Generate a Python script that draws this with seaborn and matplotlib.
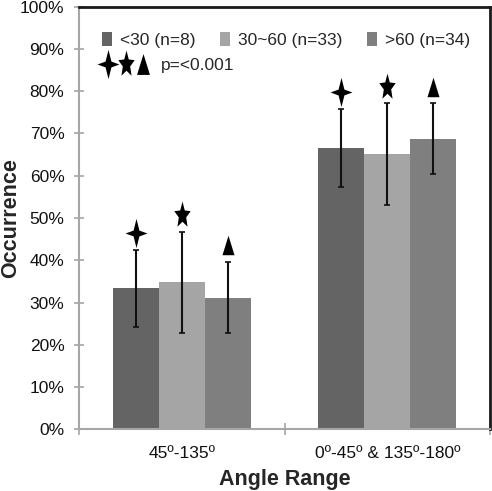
import numpy as np
import pandas as pd
import seaborn as sns
import matplotlib
matplotlib.use("Agg")
import matplotlib.pyplot as plt
from matplotlib import font_manager
from matplotlib.patches import Patch
from matplotlib.lines import Line2D
from matplotlib.legend_handler import HandlerTuple

# ---- data ----
categories = ["45º-135º", "0º-45º & 135º-180º"]
groups = ["<30 (n=8)", "30~60 (n=33)", ">60 (n=34)"]
vals_lt30 = [33.4, 66.5]
vals_30_60 = [34.8, 65.1]
vals_gt60 = [31.1, 68.7]
err_lt30 = [9.1, 9.2]
err_30_60 = [12.0, 12.0]
err_gt60 = [8.4, 8.4]
yticks = [0, 10, 20, 30, 40, 50, 60, 70, 80, 90, 100]
p_label = "p=<0.001"
colors = ["#646464", "#a5a5a5", "#7f7f7f"]

df = pd.DataFrame({
    "Angle Range": categories * 3,
    "group": [groups[0]] * 2 + [groups[1]] * 2 + [groups[2]] * 2,
    "Occurrence": vals_lt30 + vals_30_60 + vals_gt60,
})
errs = [err_lt30, err_30_60, err_gt60]

names = {f.name for f in font_manager.fontManager.ttflist}
narrow = "Liberation Sans Narrow" if "Liberation Sans Narrow" in names else "Liberation Sans"

sns.set_style("white")
plt.rcParams["font.family"] = [narrow, "Liberation Sans", "DejaVu Sans"]

fig = plt.figure(figsize=(4.92, 4.91), dpi=100)
ax = fig.add_axes([0.1606, 0.1257, 0.8354, 0.8607])

sns.barplot(data=df, x="Angle Range", y="Occurrence", hue="group",
            palette=colors, width=0.67, saturation=1, errorbar=None,
            legend=False, linewidth=0, ax=ax)

# custom markers
sparkle = [(0, 1), (0.2, 0.2), (0.75, 0), (0.2, -0.2), (0, -1),
           (-0.2, -0.2), (-0.75, 0), (-0.2, 0.2), (0, 1)]
ang = np.pi / 2 + np.arange(10) * np.pi / 5
rad = np.where(np.arange(10) % 2 == 0, 1.0, 0.45)
star = [(0.62 * r * np.cos(a), r * np.sin(a)) for r, a in zip(rad, ang)]
star.append(star[0])
tri = [(-0.62, -1), (0.62, -1), (0, 1), (-0.62, -1)]
markers = [sparkle, star, tri]
msizes = [21, 20, 14]

bar_conts = list(ax.containers)
for i, cont in enumerate(bar_conts):
    xs = [b.get_x() + b.get_width() / 2 for b in cont]
    ys = [b.get_height() for b in cont]
    ax.errorbar(xs, ys, yerr=errs[i], fmt="none", ecolor="#111111",
                elinewidth=1.5, capsize=2.5, capthick=1.2, zorder=3)
    tops = [y + e + 4.0 for y, e in zip(ys, errs[i])]
    ax.plot(xs, tops, linestyle="none", marker=markers[i], markersize=msizes[i],
            color="black", markeredgewidth=0, zorder=4)

ax.set_xlim(-0.5, 1.5)
ax.set_ylim(0, 100)
ax.set_yticks(yticks)
ax.set_yticklabels([f"{t}%" for t in yticks])
ax.set_xticks([0, 1])
ax.set_xticks([-0.5, 0.5, 1.5], minor=True)
ax.tick_params(axis="y", which="major", direction="inout", length=7, width=1.2,
               color="#a6a6a6", labelsize=12.5, pad=7, labelcolor="#111111")
ax.tick_params(axis="x", which="major", length=0, labelsize=12.5, pad=12,
               labelcolor="#111111")
ax.tick_params(axis="x", which="minor", direction="inout", length=9, width=1.2,
               color="#a6a6a6")
ax.tick_params(left=True, bottom=True)
ax.tick_params(axis="x", which="minor", bottom=True)

for s in ["left", "bottom"]:
    ax.spines[s].set_color("#a6a6a6")
    ax.spines[s].set_linewidth(1.5)
for s in ["top", "right"]:
    ax.spines[s].set_color("#1a1a1a")
    ax.spines[s].set_linewidth(2)
    ax.spines[s].set_visible(True)

ax.set_xlabel("Angle Range", fontsize=15.5, fontweight="bold",
              family=["Liberation Sans"], labelpad=6)
ax.set_ylabel("Occurrence", fontsize=15.5, fontweight="bold",
              family=["Liberation Sans"])
ax.yaxis.set_label_coords(-0.142, 0.5)

# legends
handles = [Patch(facecolor=c, edgecolor="none") for c in colors]
leg1 = ax.legend(handles, groups, loc="upper left", bbox_to_anchor=(0.057, 0.941),
                 ncol=3, frameon=False, fontsize=12.5, handlelength=0.55,
                 handleheight=0.9, handletextpad=0.45, columnspacing=1.45,
                 borderaxespad=0, borderpad=0)
ax.add_artist(leg1)
mh = tuple(Line2D([], [], linestyle="none", marker=m, markersize=s,
                  color="black", markeredgewidth=0)
           for m, s in zip(markers, [21, 20, 15]))
ax.legend([mh], [p_label], handler_map={tuple: HandlerTuple(ndivide=None, pad=0.0)},
          loc="upper left", bbox_to_anchor=(0.05, 0.878), frameon=False,
          fontsize=12.5, handlelength=3.0, handletextpad=0.55,
          borderaxespad=0, borderpad=0)

fig.savefig("out.png", dpi=100)
